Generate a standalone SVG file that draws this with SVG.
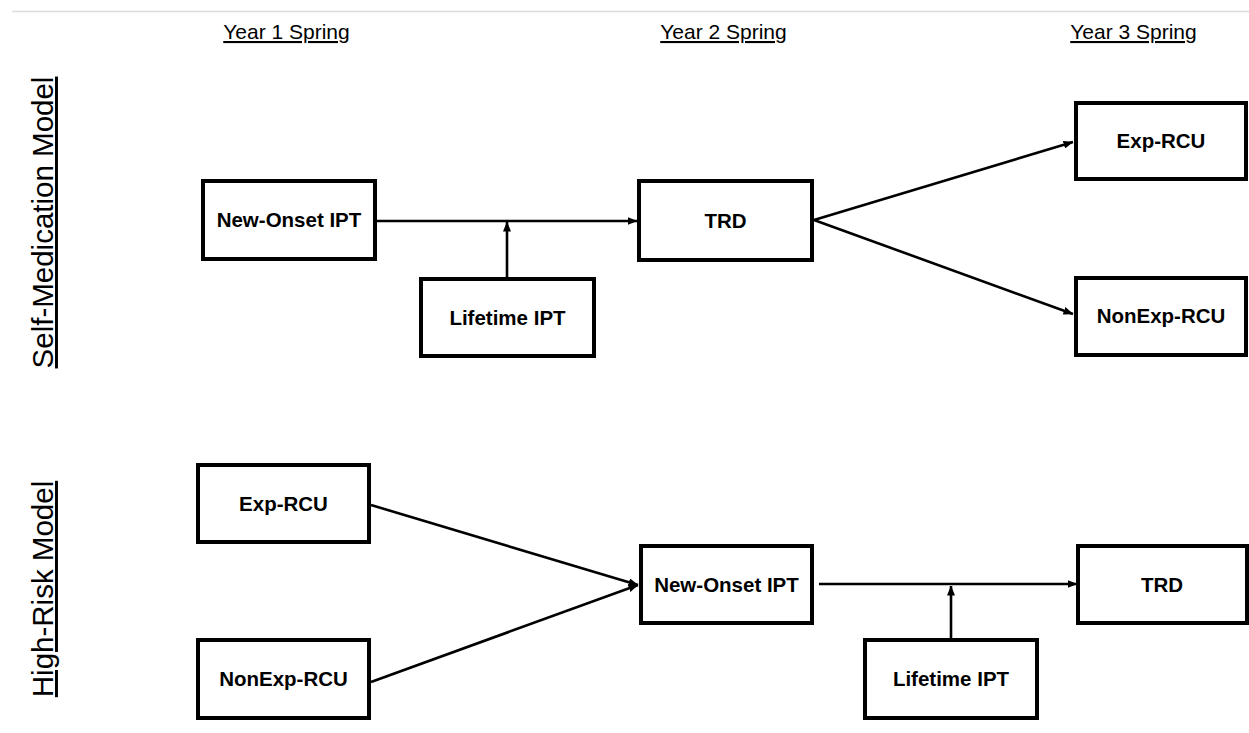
<svg xmlns="http://www.w3.org/2000/svg" width="1249" height="733" viewBox="0 0 1249 733">
<defs>
<marker id="ah" markerWidth="10" markerHeight="8" refX="9.5" refY="4" orient="auto" markerUnits="userSpaceOnUse">
<path d="M0,0 L10,4 L0,8 z" fill="#000"/>
</marker>
<style>
.box{fill:#fff;stroke:#000;stroke-width:4}
.lbl{font-family:"Liberation Sans",Arial,sans-serif;font-weight:bold;font-size:20.5px;text-anchor:middle;fill:#000}
.hdr{font-family:"Liberation Sans",Arial,sans-serif;font-size:21px;text-anchor:middle;fill:#000;text-decoration:underline}
.side{font-family:"Liberation Sans",Arial,sans-serif;font-size:29.5px;text-anchor:middle;fill:#000;text-decoration:underline}
.con{stroke:#000;stroke-width:2.6;fill:none;marker-end:url(#ah)}
</style>
</defs>
<rect width="1249" height="733" fill="#fff"/>
<line x1="12" y1="11.5" x2="1249" y2="11.5" stroke="#dcdcdc" stroke-width="1.5"/>
<g id="headers">
<text class="hdr" x="286.5" y="39">Year 1 Spring</text>
<text class="hdr" x="723.5" y="39">Year 2 Spring</text>
<text class="hdr" x="1133.5" y="39">Year 3 Spring</text>
</g>
<g id="side-labels">
<text class="side" transform="translate(53,222.5) rotate(-90)">Self-Medication Model</text>
<text class="side" transform="translate(53,589) rotate(-90)">High-Risk Model</text>
</g>
<g id="connectors">
<line class="con" x1="377" y1="221" x2="637" y2="221"/>
<line class="con" x1="507" y1="277" x2="507" y2="222"/>
<line class="con" x1="814" y1="220" x2="1073" y2="142"/>
<line class="con" x1="814" y1="220" x2="1073" y2="314"/>
<line class="con" x1="371" y1="505" x2="638" y2="585"/>
<line class="con" x1="371" y1="682" x2="638" y2="585"/>
<line class="con" x1="819" y1="584" x2="1077" y2="584"/>
<line class="con" x1="951" y1="638" x2="951" y2="586"/>
</g>
<g id="sm-newonset"><rect class="box" x="203" y="181" width="172" height="78"/><text class="lbl" x="289" y="227">New-Onset IPT</text></g>
<g id="sm-lifetime"><rect class="box" x="421" y="279" width="173" height="77"/><text class="lbl" x="507.5" y="325">Lifetime IPT</text></g>
<g id="sm-trd"><rect class="box" x="639" y="181" width="173" height="79"/><text class="lbl" x="725.5" y="228">TRD</text></g>
<g id="sm-exprcu"><rect class="box" x="1076" y="103" width="170" height="76"/><text class="lbl" x="1161" y="148">Exp-RCU</text></g>
<g id="sm-nonexprcu"><rect class="box" x="1076" y="278" width="170" height="77"/><text class="lbl" x="1161" y="323">NonExp-RCU</text></g>
<g id="hr-exprcu"><rect class="box" x="198" y="465" width="171" height="77"/><text class="lbl" x="283.5" y="511">Exp-RCU</text></g>
<g id="hr-nonexprcu"><rect class="box" x="198" y="640" width="171" height="78"/><text class="lbl" x="283.5" y="686">NonExp-RCU</text></g>
<g id="hr-newonset"><rect class="box" x="641" y="546" width="171" height="77"/><text class="lbl" x="726.5" y="592">New-Onset IPT</text></g>
<g id="hr-trd"><rect class="box" x="1078" y="546" width="169" height="77"/><text class="lbl" x="1162" y="592">TRD</text></g>
<g id="hr-lifetime"><rect class="box" x="865" y="640" width="172" height="78"/><text class="lbl" x="951" y="686">Lifetime IPT</text></g>
</svg>
